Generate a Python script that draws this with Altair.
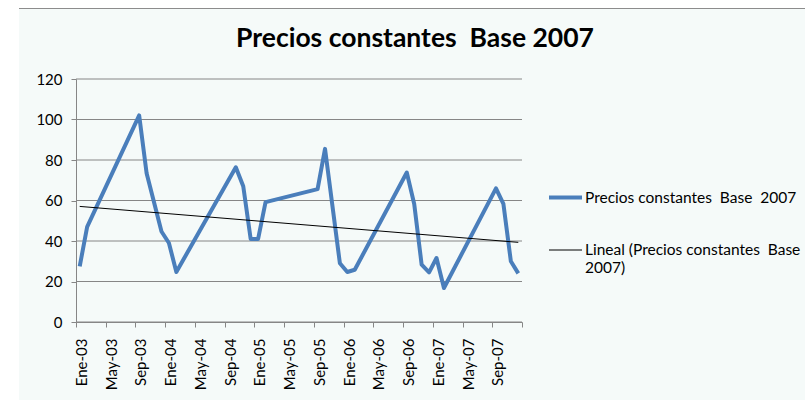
import altair as alt
import pandas as pd

# Monthly observations (year-month) and their constant-price values
fechas = [
    "2003-01", "2003-02", "2003-09", "2003-10", "2003-12",
    "2004-01", "2004-02", "2004-10", "2004-11", "2004-12",
    "2005-01", "2005-02", "2005-09", "2005-10", "2005-12",
    "2006-01", "2006-02", "2006-09", "2006-10", "2006-11", "2006-12",
    "2007-01", "2007-02", "2007-09", "2007-10", "2007-11", "2007-12",
]
precios = [
    27.5, 47.0, 102.0, 73.5, 44.7,
    39.0, 24.7, 76.4, 67.0, 41.0,
    41.0, 59.2, 65.6, 85.5, 29.0,
    24.7, 25.8, 73.8, 58.3, 28.3, 24.5,
    31.6, 16.8, 66.0, 58.3, 30.0, 24.0,
]

# Axis tick labels (one every four months) and gridline values
etiquetas_x = [
    "Ene-03", "May-03", "Sep-03", "Ene-04", "May-04", "Sep-04",
    "Ene-05", "May-05", "Sep-05", "Ene-06", "May-06", "Sep-06",
    "Ene-07", "May-07", "Sep-07",
]
valores_y = [0, 20, 40, 60, 80, 100, 120]

# A no-break space keeps the double gap between words when rendered
TITULO = "Precios constantes\u00a0 Base 2007"
SERIE = "Precios constantes\u00a0 Base\u00a0 2007"
TENDENCIA = "Lineal (Precios constantes\u00a0 Base 2007)"
TENDENCIA_LINEAS = ["Lineal (Precios constantes\u00a0 Base", "2007)"]

FUENTE = "Lato"
GRIS = "#868686"
FONDO = "#f5faf9"

# Months counted from Ene-03; each point sits in the middle of its month
fecha = pd.to_datetime(fechas, format="%Y-%m")
df = pd.DataFrame({
    "mes": (fecha.year - 2003) * 12 + fecha.month - 1 + 0.5,
    "precio": precios,
    "serie": SERIE,
})
grid_df = pd.DataFrame({"precio": valores_y})

W, H = 446, 243
LEFT, TOP = 76, 79

lista = "[" + ",".join(f"'{e}'" for e in etiquetas_x) + "]"
x_axis = alt.Axis(
    values=list(range(0, 61, 4)),
    labelExpr=f"datum.value < 60 ? {lista}[round(datum.value / 4)] : ''",
    labelAngle=270,
    labelAlign="right",
    labelBaseline="middle",
    labelOffset=5.5,
    labelPadding=11,
    labelOverlap=False,
    labelFont=FUENTE,
    labelFontSize=15,
    labelColor="#000000",
    title=None,
    grid=False,
    domainColor=GRIS,
    tickColor=GRIS,
    tickSize=5,
    zindex=1,
)
y_axis = alt.Axis(
    values=valores_y,
    labelFont=FUENTE,
    labelFontSize=15,
    labelColor="#000000",
    labelPadding=9,
    labelOverlap=False,
    title=None,
    grid=False,
    domainColor=GRIS,
    tickColor=GRIS,
    tickSize=5,
    zindex=1,
)

x_scale = alt.Scale(domain=[0, 60], nice=False, zero=False)
x_enc = alt.X("mes:Q", scale=x_scale, axis=x_axis)
y_enc = alt.Y("precio:Q", scale=alt.Scale(domain=[0, 120], nice=False), axis=y_axis)

lineas_js = "[" + ",".join(f"'{t}'" for t in TENDENCIA_LINEAS) + "]"
leyenda = alt.Legend(
    title=None,
    orient="none",
    legendX=471,
    legendY=100,
    symbolType="stroke",
    symbolSize=1089,
    labelFont=FUENTE,
    labelFontSize=15.5,
    labelColor="#000000",
    labelLimit=400,
    labelOffset=1,
    rowPadding=27,
    labelExpr=f"datum.label == '{TENDENCIA}' ? {lineas_js} : datum.label",
)
color_enc = alt.Color(
    "serie:N",
    scale=alt.Scale(domain=[SERIE, TENDENCIA], range=["#4A7EBB", "#000000"]),
    legend=leyenda,
)
width_enc = alt.StrokeWidth(
    "serie:N",
    scale=alt.Scale(type="ordinal", domain=[SERIE, TENDENCIA], range=[4, 1]),
    legend=leyenda,
)

# Light panel behind the whole chart, with its grey top edge
panel = alt.Chart(grid_df).mark_rect(color=FONDO).encode(
    x=alt.value(19 - LEFT), x2=alt.value(805 - LEFT),
    y=alt.value(8 - TOP), y2=alt.value(400 - TOP),
)
borde = alt.Chart(grid_df).mark_rule(color="#8c8c8c", strokeWidth=1).encode(
    x=alt.value(19 - LEFT), x2=alt.value(805 - LEFT), y=alt.value(8.5 - TOP),
)

# Horizontal gridlines spanning the whole date range
grid = alt.Chart(grid_df).mark_rule(color=GRIS, strokeWidth=1).encode(
    y=y_enc,
    x=alt.X(datum=0, type="quantitative", scale=x_scale, axis=x_axis),
    x2=alt.X2(datum=60),
)

linea = alt.Chart(df).mark_line(strokeJoin="round").encode(
    x=x_enc, y=y_enc, color=color_enc, strokeWidth=width_enc,
)

tendencia = (
    alt.Chart(df)
    .transform_regression("mes", "precio")
    .transform_calculate(serie=f"'{TENDENCIA}'")
    .mark_line()
    .encode(x=x_enc, y=y_enc, color=color_enc, strokeWidth=width_enc)
)

chart = (
    alt.layer(panel, borde, grid, linea, tendencia)
    .properties(
        width=W,
        height=H,
        title=alt.TitleParams(
            text=TITULO,
            font=FUENTE,
            fontSize=26.5,
            fontWeight="bold",
            color="#000000",
            anchor="middle",
            baseline="alphabetic",
            dx=116,
            offset=-65,
        ),
        padding={"left": LEFT, "top": TOP, "right": 805 - LEFT - W, "bottom": 400 - TOP - H},
        autosize=alt.AutoSizeParams(type="none"),
        background="#ffffff",
    )
    .configure_view(stroke=None)
    .configure_axis(labelOverlap=False)
)

chart.save("out.html", embed_options={"renderer": "svg", "actions": False})
